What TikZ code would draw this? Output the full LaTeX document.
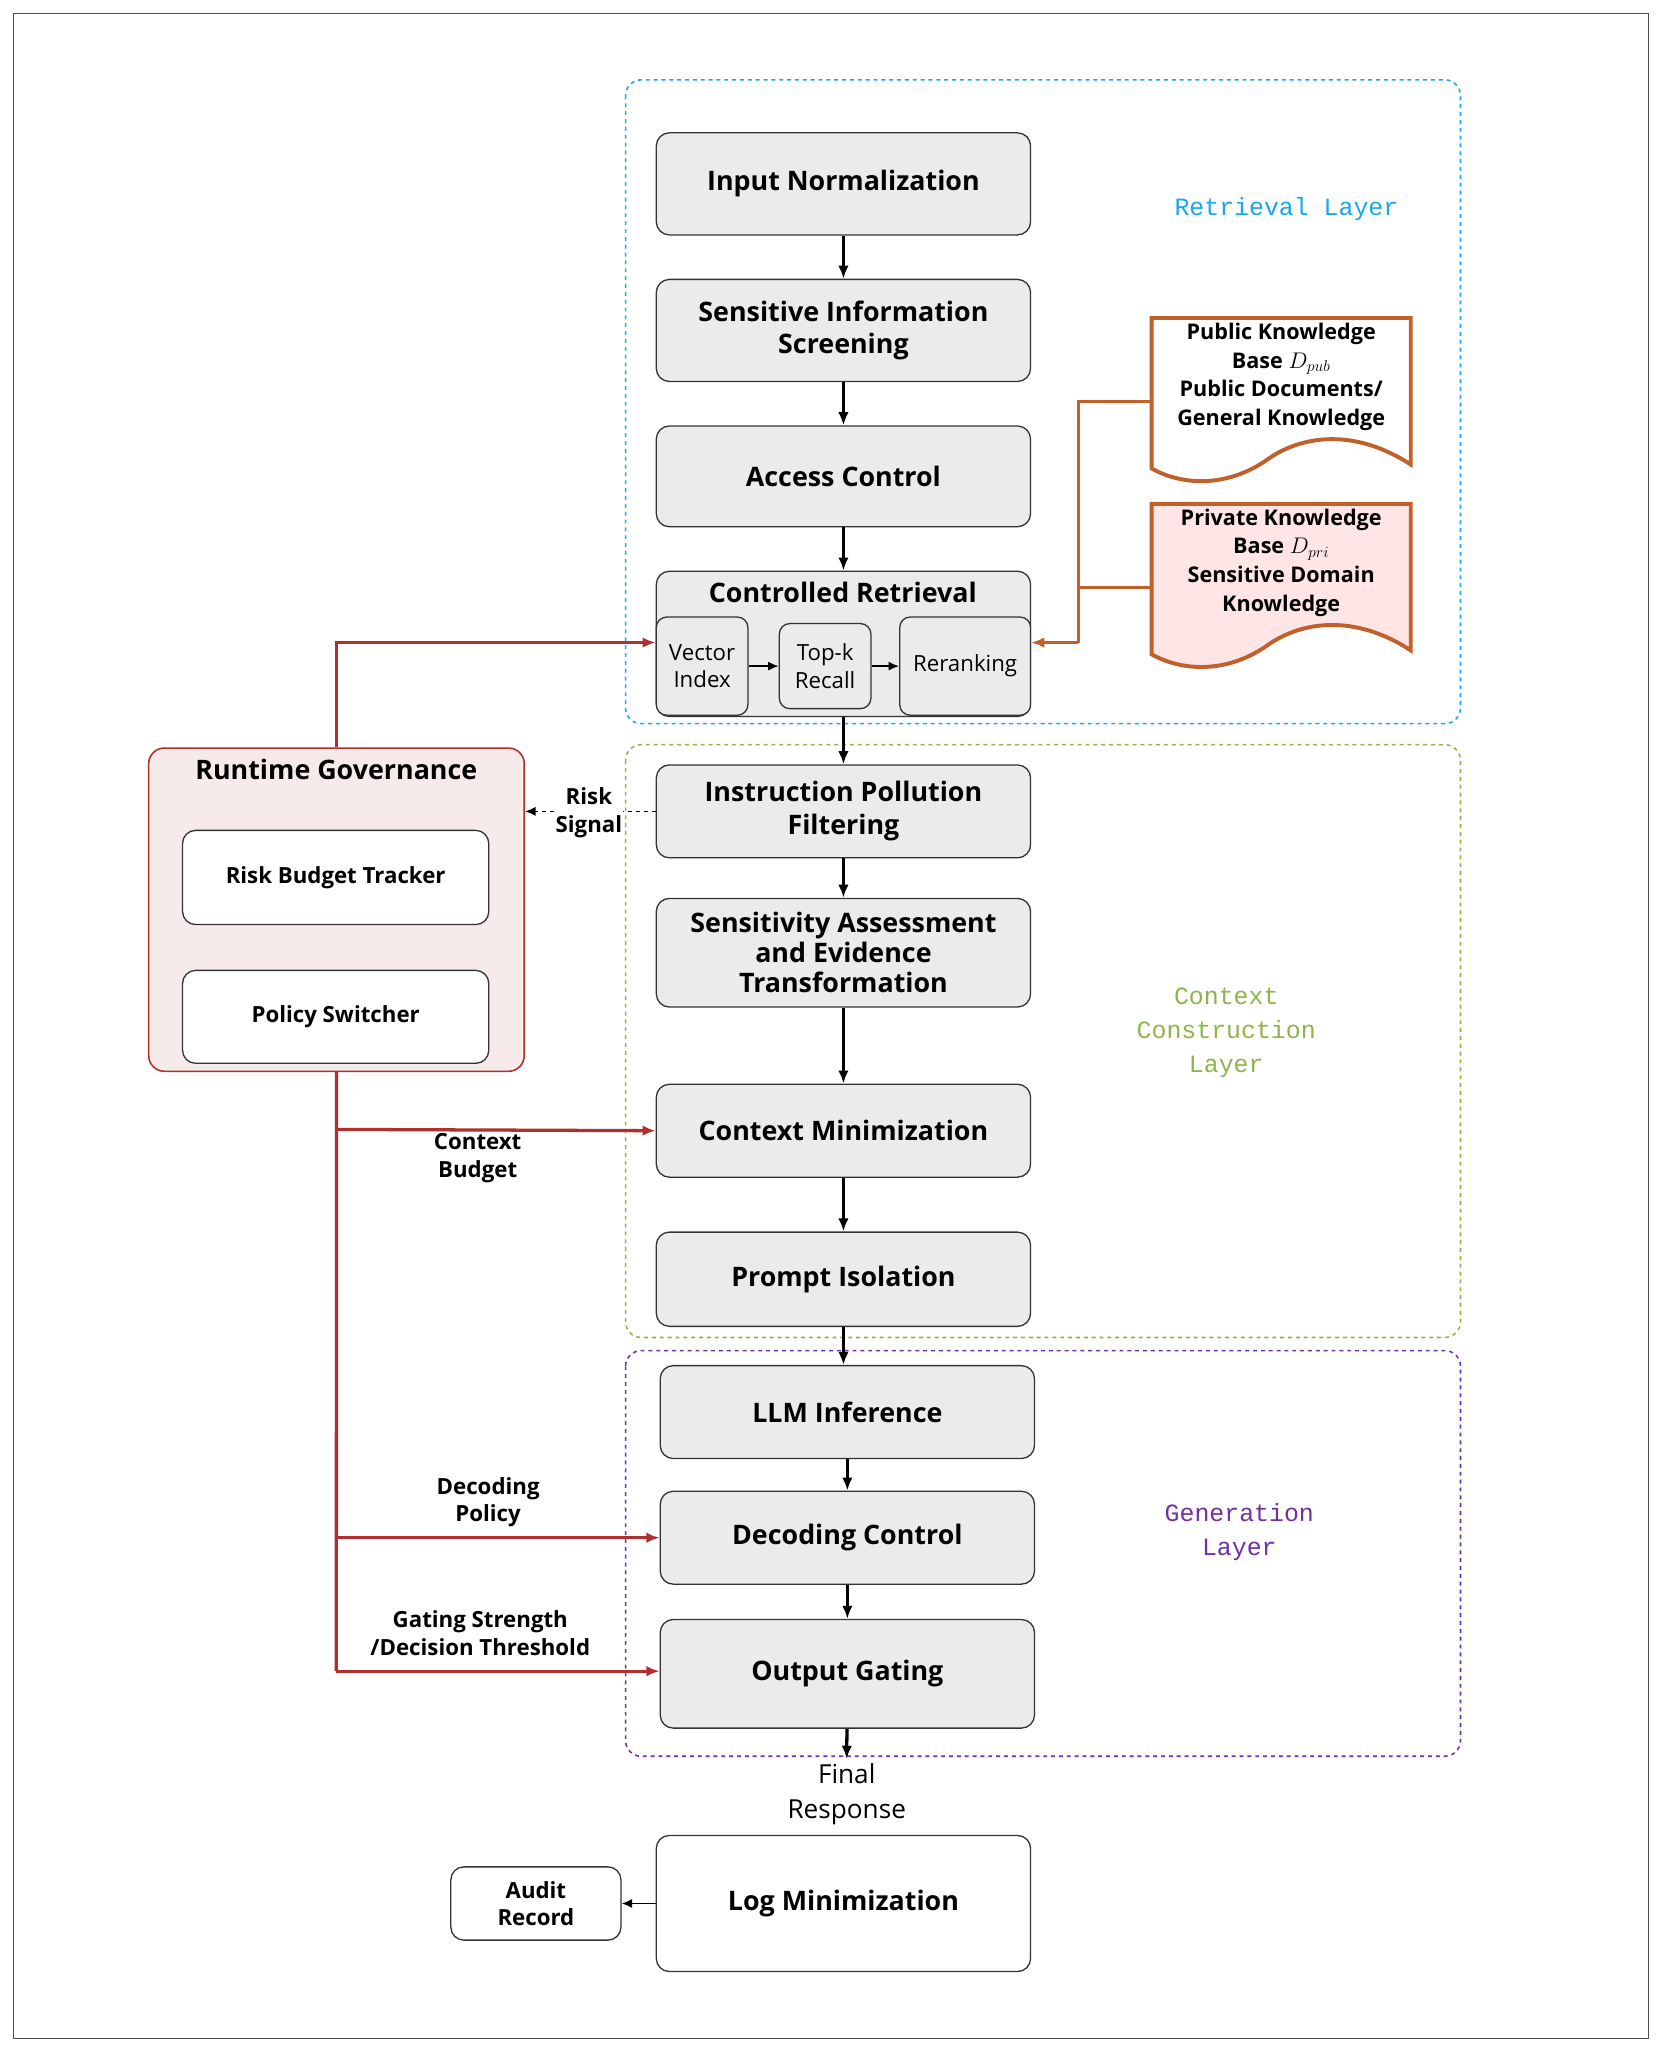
\documentclass[tikz,border=0pt]{standalone}
\usepackage{fontspec}
\setmainfont{Open Sans}
\newfontfamily\monof{Liberation Mono}
\usetikzlibrary{arrows.meta,positioning,calc}
\definecolor{gfill}{HTML}{EBEBEB}
\definecolor{rred}{HTML}{B0302E}
\definecolor{oran}{HTML}{C0602A}
\definecolor{cyanl}{HTML}{1AA8E8}
\definecolor{greenl}{HTML}{8DB54A}
\definecolor{purl}{HTML}{7030A0}
\tikzset{
 mainbox/.style={draw=black!80,fill=gfill,rounded corners=10pt,line width=1pt,align=center,font=\bfseries\fontsize{20.5}{25}\selectfont},
 subbox/.style={draw=black!80,fill=gfill,rounded corners=8pt,line width=1pt,align=center,font=\fontsize{17}{21}\selectfont,inner sep=1pt},
 whitebox/.style={draw=black!80,fill=white,rounded corners=10pt,line width=1pt,align=center,font=\bfseries\fontsize{17}{21}\selectfont},
 flow/.style={-{Latex[length=10pt,width=8pt]},line width=2.5pt,black},
 redar/.style={-{Latex[length=10pt,width=8pt]},line width=2.5pt,rred},
 lbl/.style={font=\bfseries\fontsize{17}{21}\selectfont,align=center},
 layer/.style={font=\monof\fontsize{19}{26}\selectfont,align=center},
}
\begin{document}
\begin{tikzpicture}[x=1pt,y=-1pt]
\useasboundingbox (0,0) rectangle (1270,1568);
\draw[black!70,line width=0.8pt] (10,10) rectangle (1260,1558);
% layer frames
\draw[cyanl,dashed,line width=1.2pt,rounded corners=12pt] (478,61) rectangle (1116,553);
\draw[greenl,dashed,line width=1.2pt,rounded corners=12pt] (478,569) rectangle (1116,1022);
\draw[purl,dashed,line width=1.2pt,rounded corners=12pt] (478,1032) rectangle (1116,1342);
\node[layer,text=cyanl] (lr) at (983,160) {Retrieval Layer};
\node[layer,text=greenl] (lc) at (937,789) {Context\\Construction\\Layer};
\node[layer,text=purl] (lg) at (947,1171) {Generation\\Layer};
% main boxes
\node[mainbox,minimum width=286pt,minimum height=78pt,anchor=north west] (in) at (501,101) {Input Normalization};
\node[mainbox,minimum width=286pt,minimum height=78pt,anchor=north west] (ss) at (501,213) {Sensitive Information\\Screening};
\node[mainbox,minimum width=286pt,minimum height=77pt,anchor=north west] (ac) at (501,325) {Access Control};
\node[mainbox,minimum width=286pt,minimum height=111pt,anchor=north west] (cr) at (501,436) {};
\node[font=\bfseries\fontsize{20.5}{25}\selectfont] (crt) at (644,453) {Controlled Retrieval};
\node[subbox,minimum width=70pt,minimum height=75pt,anchor=north west] (vi) at (501,471) {Vector\\Index};
\node[subbox,minimum width=70pt,minimum height=65pt,anchor=north west] (tk) at (595,476) {Top-k\\Recall};
\node[subbox,minimum width=100pt,minimum height=75pt,anchor=north west] (rr) at (687,471) {Reranking};
\node[mainbox,minimum width=286pt,minimum height=71pt,anchor=north west] (ip) at (501,584) {Instruction Pollution\\Filtering};
\node[mainbox,minimum width=286pt,minimum height=83pt,anchor=north west,font=\bfseries\fontsize{20.5}{23}\selectfont] (sa) at (501,686) {Sensitivity Assessment\\and Evidence\\Transformation};
\node[mainbox,minimum width=286pt,minimum height=71pt,anchor=north west] (cm) at (501,828) {Context Minimization};
\node[mainbox,minimum width=286pt,minimum height=72pt,anchor=north west] (pi) at (501,941) {Prompt Isolation};
\node[mainbox,minimum width=286pt,minimum height=71pt,anchor=north west] (llm) at (504,1043) {LLM Inference};
\node[mainbox,minimum width=286pt,minimum height=71pt,anchor=north west] (dc) at (504,1139) {Decoding Control};
\node[mainbox,minimum width=286pt,minimum height=83pt,anchor=north west] (og) at (504,1237) {Output Gating};
\node[font=\fontsize{20}{27}\selectfont,align=center] (fr) at (647,1371) {Final\\Response};
\node[mainbox,fill=white,minimum width=286pt,minimum height=104pt,anchor=north west] (lm) at (501,1402) {Log Minimization};
\node[whitebox,minimum width=130pt,minimum height=56pt,anchor=north west,inner sep=1pt] (ar) at (344,1426) {Audit\\Record};
% runtime governance
\node[draw=rred,fill=rred!10,rounded corners=12pt,line width=1.2pt,minimum width=287pt,minimum height=247pt,anchor=north west] (rg) at (113,571) {};
\node[font=\bfseries\fontsize{20.5}{25}\selectfont] (rgt) at (257,588) {Runtime Governance};
\node[whitebox,minimum width=234pt,minimum height=72pt,anchor=north west] (rb) at (139,634) {Risk Budget Tracker};
\node[whitebox,minimum width=234pt,minimum height=71pt,anchor=north west] (ps) at (139,741) {Policy Switcher};
% knowledge bases
\draw[oran,line width=3pt,fill=white] (880,243) -- (1078,243) -- (1078,355) .. controls (1040,330) and (1000,330) .. (970,350) .. controls (940,372) and (905,372) .. (880,358) -- cycle;
\draw[oran,line width=3pt,fill=red!10] (880,385) -- (1078,385) -- (1078,497) .. controls (1040,472) and (1000,472) .. (970,492) .. controls (940,514) and (905,514) .. (880,500) -- cycle;
\node[lbl,font=\bfseries\fontsize{16.5}{22}\selectfont] (pub) at (979,288) {Public Knowledge\\Base $D_{pub}$\\Public Documents/\\General Knowledge};
\node[lbl,font=\bfseries\fontsize{16.5}{22}\selectfont] (pri) at (979,430) {Private Knowledge\\Base $D_{pri}$\\Sensitive Domain\\Knowledge};
\coordinate (pubL) at (880,307);
\coordinate (priL) at (880,449);
\coordinate (jx) at (824,491);
\draw[oran,line width=2.5pt] (pubL) -| (jx);
\draw[oran,line width=2.5pt] (priL) -- (824,449);
\draw[oran,line width=2.5pt,-{Latex[length=10pt,width=8pt]}] (jx) -- (rr.east |- jx);
% flow arrows
\draw[flow] (in) -- (ss);
\draw[flow] (ss) -- (ac);
\draw[flow] (ac) -- (cr);
\draw[flow] (cr) -- (ip);
\draw[flow] (ip) -- (sa);
\draw[flow] (sa) -- (cm);
\draw[flow] (cm) -- (pi);
\draw[flow] (pi.south) -- (pi.south |- llm.north);
\draw[flow] (llm) -- (dc);
\draw[flow] (dc) -- (og);
\draw[flow] (og) -- (fr.north);
\draw[-{Latex[length=8pt,width=7pt]},line width=1.4pt] (vi) -- (tk);
\draw[-{Latex[length=8pt,width=7pt]},line width=1.4pt] (tk) -- (rr);
\draw[-{Latex[length=8pt,width=7pt]},line width=1.4pt] (lm) -- (ar);
% risk signal
\draw[dashed,-{Latex[length=8pt,width=7pt]},line width=1.2pt] (ip.west |- 0,620) -- (rg.east |- 0,620);
\node[lbl,fill=white,inner sep=1pt] (rs) at (450,621) {Risk\\Signal};
% red governance
\draw[redar] (rg.north) |- (vi.west |- 0,491);
\coordinate (rj) at (257,1277);
\draw[line width=2.5pt,rred] (rg.south) -- (rj);
\draw[redar] (257,863) -- (cm.west);
\draw[redar] (257,1175) -- (dc.west);
\draw[redar] (rj) -- (og.west |- rj);
\node[lbl] (cb) at (365,885) {Context\\Budget};
\node[lbl] (dp) at (373,1148) {Decoding\\Policy};
\node[lbl] (gs) at (367,1248) {Gating Strength\\/Decision Threshold};
\end{tikzpicture}
\end{document}
